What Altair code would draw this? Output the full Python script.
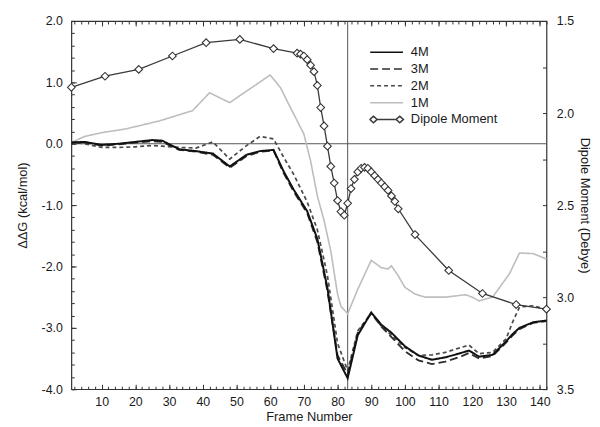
import altair as alt
import pandas as pd

# ---------------- data ----------------
frames_dg = [1, 5, 10, 15, 20, 25, 28, 33, 38, 43, 48, 53, 57, 61, 64, 67, 71, 74, 77, 80, 83,
             86, 90, 93, 96, 100, 104, 108, 112, 116, 119, 122, 126, 130, 132, 134, 138, 142]
dg_4m = [0.02, 0.03, -0.02, 0.00, 0.03, 0.06, 0.05, -0.09, -0.12, -0.16, -0.37, -0.18, -0.12, -0.10,
         -0.45, -0.75, -1.10, -1.55, -2.35, -3.50, -3.82, -3.12, -2.75, -2.95, -3.08, -3.30, -3.45,
         -3.52, -3.48, -3.42, -3.37, -3.47, -3.44, -3.22, -3.10, -3.00, -2.91, -2.88]
dg_3m = [0.02, 0.02, -0.03, -0.01, 0.02, 0.04, 0.03, -0.10, -0.13, -0.18, -0.39, -0.20, -0.13, -0.11,
         -0.48, -0.78, -1.13, -1.60, -2.40, -3.45, -3.75, -3.08, -2.76, -2.98, -3.15, -3.38, -3.53,
         -3.59, -3.55, -3.48, -3.41, -3.50, -3.46, -3.24, -3.12, -3.02, -2.92, -2.89]
dg_2m = [0.02, 0.00, -0.06, -0.06, -0.05, -0.03, -0.04, -0.06, -0.07, 0.03, -0.25, -0.03, 0.12, 0.08,
         -0.22, -0.50, -0.95, -1.40, -2.15, -3.25, -3.70, -3.05, -2.76, -2.97, -3.12, -3.32, -3.45,
         -3.44, -3.40, -3.33, -3.28, -3.42, -3.40, -3.18, -2.90, -2.66, -2.64, -2.70]

frames_1m = [1, 5, 10, 17, 27, 37, 42, 48, 60, 63, 66, 70, 72, 74, 76, 78, 80, 81, 83, 86, 90, 93,
             95, 96, 98, 100, 103, 106, 112, 118, 120, 122, 126, 131, 134, 138, 142]
dg_1m = [0.02, 0.12, 0.18, 0.24, 0.37, 0.54, 0.83, 0.67, 1.12, 0.92, 0.59, 0.16, -0.28, -0.85,
         -1.25, -1.75, -2.45, -2.65, -2.77, -2.37, -1.90, -2.02, -2.04, -1.99, -2.15, -2.34, -2.45,
         -2.50, -2.50, -2.46, -2.50, -2.56, -2.50, -2.12, -1.78, -1.79, -1.88]

frames_dip = [1, 11, 21, 31, 41, 51, 61, 68, 69, 70, 71, 72, 73, 74, 75, 76, 77, 78, 79, 80, 81,
              82, 83, 84, 85, 86, 87, 88, 89, 90, 91, 92, 93, 94, 95, 96, 97, 98, 103, 113, 123,
              133, 142]
dipole = [1.86, 1.80, 1.763, 1.69, 1.618, 1.60, 1.65, 1.675, 1.68, 1.69, 1.71, 1.74, 1.775, 1.85,
          1.97, 2.07, 2.18, 2.29, 2.38, 2.475, 2.535, 2.555, 2.49, 2.41, 2.36, 2.32, 2.30, 2.295,
          2.30, 2.32, 2.34, 2.36, 2.38, 2.40, 2.42, 2.45, 2.48, 2.52, 2.66, 2.855, 2.98, 3.04, 3.065]

ref_frame = [83]
ref_zero = [0.0]

series_names = ["4M", "3M", "2M", "1M", "Dipole Moment"]
x_ticks = [10, 20, 30, 40, 50, 60, 70, 80, 90, 100, 110, 120, 130, 140]
x_minor = list(range(2, 143, 2))
y_left_ticks = [-4, -3, -2, -1, 0, 1, 2]
y_left_minor = [round(-4 + 0.2 * i, 1) for i in range(31)]
y_right_ticks = [1.5, 2.0, 2.5, 3.0, 3.5]
y_right_minor = [1.5, 1.75, 2.0, 2.25, 2.5, 2.75, 3.0, 3.25, 3.5]

# ---------------- tables ----------------
rows = []
for name, fr, vals in [("1M", frames_1m, dg_1m), ("2M", frames_dg, dg_2m),
                       ("3M", frames_dg, dg_3m), ("4M", frames_dg, dg_4m)]:
    for f, v in zip(fr, vals):
        rows.append({"frame": f, "value": v, "series": name})
dg_df = pd.DataFrame(rows)
dip_df = pd.DataFrame({"frame": frames_dip, "dipole": dipole})
vline_df = pd.DataFrame({"frame": ref_frame})
hline_df = pd.DataFrame({"value": ref_zero})

F = "Liberation Sans"
TXT = "#1a1a1a"
TICK = "#333333"
HYPHEN = "replace(format(datum.value, '.1f'), '\u2212', '-')"

x_scale = alt.Scale(domain=[1, 142], nice=False, zero=False)
yl_scale = alt.Scale(domain=[-4, 2], nice=False, zero=False)
yr_scale = alt.Scale(domain=[1.5, 3.5], reverse=True, nice=False, zero=False)

dip_path = "M-1.02,0L-0.8,-0.2L-0.58,0L-0.8,0.2ZM-0.58,0L0.58,0M0.58,0L0.8,-0.2L1.02,0L0.8,0.2Z"
color_scale = alt.Scale(domain=series_names,
                        range=["#111111", "#2e2e2e", "#4a4a4a", "#bdbdbd", "#3a3a3a"])
dash_scale = alt.Scale(domain=series_names, range=[[1, 0], [8, 4], [4, 3], [1, 0], [1, 0]])
shape_scale = alt.Scale(domain=series_names, range=["stroke", "stroke", "stroke", "stroke", dip_path])
width_scale = alt.Scale(domain=["4M", "3M", "2M", "1M"], range=[2.0, 1.6, 1.5, 1.2])

legend = alt.Legend(orient="none", legendX=301, legendY=24, title=None, symbolSize=1100,
                    clipHeight=15, rowPadding=2, labelFontSize=13, labelOffset=7,
                    symbolStrokeWidth=1.5, symbolOffset=0, padding=0, labelFont=F,
                    labelColor=TXT)

# ---------------- axes ----------------
ax_x_labels = alt.Axis(orient="bottom", values=x_ticks, format="d", ticks=False, tickSize=0,
                       domain=False, grid=False, labelPadding=6, labelFontSize=12.5, labelFont=F,
                       labelColor=TXT, title="Frame Number", titleFont=F, titleFontSize=13,
                       titleFontWeight="normal", titleColor=TXT, titlePadding=3)
ax_x_major_b = alt.Axis(orient="bottom", values=x_ticks, labels=False, domain=False, grid=False,
                        ticks=True, tickSize=5, offset=-5, tickColor=TICK, title=None)
ax_x_minor_b = alt.Axis(orient="bottom", values=x_minor, labels=False, domain=False, grid=False,
                        ticks=True, tickSize=3, offset=-3, tickColor=TICK, title=None)
ax_x_major_t = alt.Axis(orient="top", values=x_ticks, labels=False, domain=False, grid=False,
                        ticks=True, tickSize=5, offset=-5, tickColor=TICK, title=None)
ax_x_minor_t = alt.Axis(orient="top", values=x_minor, labels=False, domain=False, grid=False,
                        ticks=True, tickSize=3, offset=-3, tickColor=TICK, title=None)

ax_yl_labels = alt.Axis(orient="left", values=y_left_ticks, labelExpr=HYPHEN, ticks=False,
                        tickSize=0, domain=False, grid=False, labelPadding=9, labelFontSize=12.5,
                        labelFont=F, labelColor=TXT, title="ΔΔG (kcal/mol)", titleFont=F,
                        titleFontSize=13, titleFontWeight="normal", titleColor=TXT,
                        titlePadding=12)
ax_yl_major = alt.Axis(orient="left", values=y_left_ticks, labels=False, domain=False, grid=False,
                       ticks=True, tickSize=5, offset=-5, tickColor=TICK, title=None)
ax_yl_minor = alt.Axis(orient="left", values=y_left_minor, labels=False, domain=False, grid=False,
                       ticks=True, tickSize=3, offset=-3, tickColor=TICK, title=None)

ax_yr_labels = alt.Axis(orient="right", values=y_right_ticks, format=".1f", ticks=False, tickSize=0,
                        domain=False, grid=False, labelPadding=10, labelFontSize=12.5, labelFont=F,
                        labelColor=TXT, title="Dipole Moment (Debye)", titleFont=F,
                        titleFontSize=13, titleFontWeight="normal", titleColor=TXT,
                        titlePadding=4)
ax_yr_minor = alt.Axis(orient="right", values=y_right_minor, labels=False, domain=False,
                       grid=False, ticks=True, tickSize=4, offset=-4, tickColor=TICK, title=None)

# ---------------- layers ----------------
hline = alt.Chart(hline_df).mark_rule(color="#555555", strokeWidth=1).encode(
    y=alt.Y("value:Q", scale=yl_scale, axis=None))
vline = alt.Chart(vline_df).mark_rule(color="#555555", strokeWidth=1).encode(
    x=alt.X("frame:Q", scale=x_scale, axis=None))

lines = alt.Chart(dg_df).mark_line().encode(
    x=alt.X("frame:Q", scale=x_scale, axis=ax_x_labels),
    y=alt.Y("value:Q", scale=yl_scale, axis=ax_yl_labels),
    color=alt.Color("series:N", scale=color_scale, legend=legend),
    strokeDash=alt.StrokeDash("series:N", scale=dash_scale, legend=legend),
    strokeWidth=alt.StrokeWidth("series:N", scale=width_scale, legend=None),
)

axes_a = alt.Chart(dg_df).mark_point(opacity=0).encode(
    x=alt.X("frame:Q", scale=x_scale, axis=ax_x_major_b),
    y=alt.Y("value:Q", scale=yl_scale, axis=ax_yl_major))
axes_b = alt.Chart(dg_df).mark_point(opacity=0).encode(
    x=alt.X("frame:Q", scale=x_scale, axis=ax_x_minor_b),
    y=alt.Y("value:Q", scale=yl_scale, axis=ax_yl_minor))
axes_c = alt.Chart(dip_df).mark_point(opacity=0).encode(
    x=alt.X("frame:Q", scale=x_scale, axis=ax_x_major_t),
    y=alt.Y("dipole:Q", scale=yr_scale, axis=ax_yr_labels))
axes_d = alt.Chart(dip_df).mark_point(opacity=0).encode(
    x=alt.X("frame:Q", scale=x_scale, axis=ax_x_minor_t),
    y=alt.Y("dipole:Q", scale=yr_scale, axis=ax_yr_minor))

dip_line = alt.Chart(dip_df).mark_line(color="#3a3a3a", strokeWidth=1.3).encode(
    x=alt.X("frame:Q", scale=x_scale, axis=None),
    y=alt.Y("dipole:Q", scale=yr_scale, axis=None))
dip_pts = alt.Chart(dip_df).mark_point(shape="diamond", size=60, filled=True, fill="white",
                                       stroke="#333333", strokeWidth=1.1, opacity=1).encode(
    x=alt.X("frame:Q", scale=x_scale, axis=None),
    y=alt.Y("dipole:Q", scale=yr_scale, axis=None))

legend_layer = alt.Chart(dg_df).transform_filter("datum.frame < 0").mark_point(
    filled=False, opacity=1).encode(
    color=alt.Color("series:N", scale=color_scale, legend=legend),
    strokeDash=alt.StrokeDash("series:N", scale=dash_scale, legend=legend),
    shape=alt.Shape("series:N", scale=shape_scale, legend=legend),
)

chart = alt.layer(
    hline, vline, axes_a, axes_b, axes_c, axes_d, lines, dip_line, dip_pts, legend_layer
).resolve_scale(y="independent").resolve_axis(x="independent", y="independent").properties(
    width=480, height=372,
    padding={"left": 64, "top": 11, "right": 46, "bottom": 33},
    autosize=alt.AutoSizeParams(type="none"),
    background="white",
).configure_view(stroke="#333333", strokeWidth=1.2)

chart.save("out.html", embed_options={"renderer": "svg", "actions": False})
